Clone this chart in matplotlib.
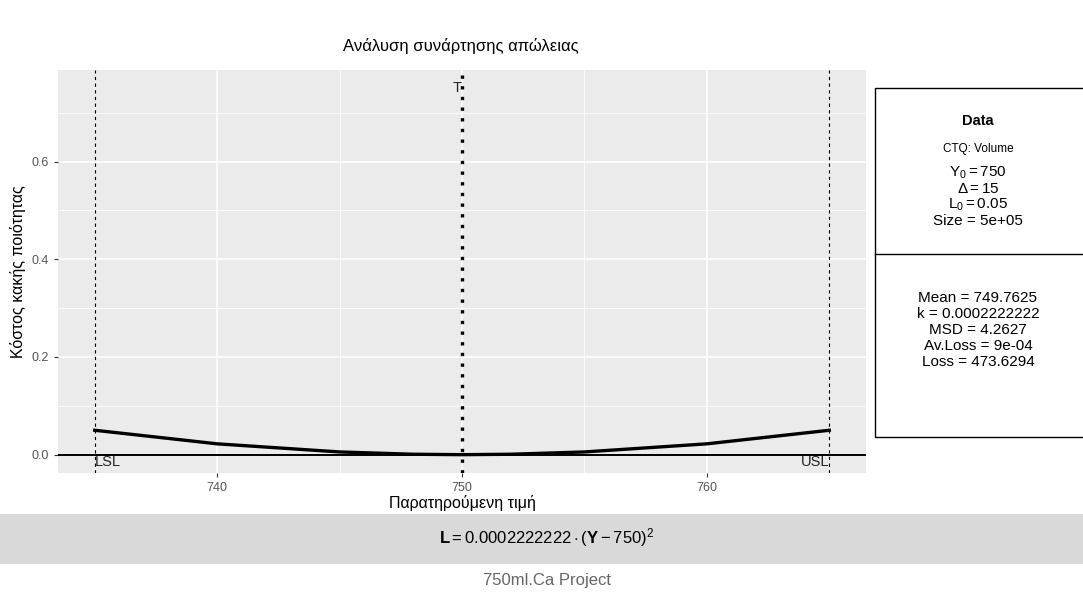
import numpy as np
import matplotlib
matplotlib.use("Agg")
import matplotlib.pyplot as plt
from matplotlib.patches import Rectangle
from matplotlib.lines import Line2D

plt.rcParams['font.family'] = ['Liberation Sans', 'DejaVu Sans']
plt.rcParams['mathtext.fontset'] = 'custom'
plt.rcParams['mathtext.rm'] = 'Liberation Sans'
plt.rcParams['mathtext.it'] = 'Liberation Sans:italic'
plt.rcParams['mathtext.bf'] = 'Liberation Sans:bold'

# Data
obs = [735, 740, 745, 748, 750, 752, 755, 760, 765]
loss = [0.05, 0.0222, 0.0056, 0.0009, 0.0, 0.0009, 0.0056, 0.0222, 0.05]
lsl, target, usl = 735, 750, 765
t_label_y = 0.75
x_ticks = [740, 750, 760]
y_ticks = [0.0, 0.2, 0.4, 0.6]
data_lines = [r'$\mathrm{Y_0 = 750}$', r'$\Delta = 15$', r'$\mathrm{L_0 = 0.05}$', 'Size = 5e+05']
stat_lines = ['Mean = 749.7625', 'k = 0.0002222222', 'MSD = 4.2627', 'Av.Loss = 9e-04', 'Loss = 473.6294']

W, H = 1083, 597
fig = plt.figure(figsize=(W / 100, H / 100), dpi=100)
ax = fig.add_axes([58 / W, 1 - 473 / H, (866 - 58) / W, (473 - 70) / H])
ax.set_facecolor('#EBEBEB')
for s in ax.spines.values():
    s.set_visible(False)

ax.set_xlim(733.5, 766.5)
ax.set_ylim(-0.0375, 0.7875)
ax.set_xticks(x_ticks)
ax.set_yticks(y_ticks)
ax.set_xticks([735, 745, 755, 765], minor=True)
ax.set_yticks([0.1, 0.3, 0.5, 0.7], minor=True)
ax.grid(which='major', color='white', linewidth=1.1)
ax.grid(which='minor', color='white', linewidth=0.55)
ax.set_axisbelow(True)
ax.tick_params(which='major', colors='#333333', labelcolor='#555555', labelsize=9, length=3, width=0.8)
ax.tick_params(which='minor', length=0)
ax.yaxis.set_major_formatter(matplotlib.ticker.FormatStrFormatter('%.1f'))

ax.plot(obs, loss, color='black', linewidth=2.4, solid_joinstyle='round')
ax.axhline(0, color='black', linewidth=1.4)
ax.axvline(lsl, color='black', linestyle=(0, (3, 3)), linewidth=0.8)
ax.axvline(usl, color='black', linestyle=(0, (3, 3)), linewidth=0.8)
ax.axvline(target, color='black', linestyle=(0, (1, 2.2)), linewidth=2.4)
ax.text(target, t_label_y, 'T', ha='right', va='center', fontsize=10.5, color='#222222')
ax.text(lsl, 0, 'LSL', ha='left', va='top', fontsize=10.5, color='#222222')
ax.text(usl, 0, 'USL', ha='right', va='top', fontsize=10.5, color='#222222')

ax.set_xlabel('Παρατηρούμενη τιμή', fontsize=11.5, labelpad=1)
ax.set_ylabel('Κόστος κακής ποιότητας', fontsize=11.5, labelpad=4)
fig.text(461 / W, 1 - 46 / H, 'Ανάλυση συνάρτησης απώλειας', ha='center', va='center', fontsize=12)

# right info box
fig.patches.append(Rectangle((875 / W, 1 - 437 / H), (1090 - 875) / W, (437 - 88) / H,
                             transform=fig.transFigure, facecolor='white', edgecolor='black', linewidth=1))
fig.lines.append(Line2D([875 / W, 1], [1 - 254 / H, 1 - 254 / H], transform=fig.transFigure,
                        color='black', linewidth=1))
cx = 978 / W
fig.text(cx, 1 - 121 / H, 'Data', ha='center', va='center', fontsize=10.5, fontweight='bold')
fig.text(cx, 1 - 149 / H, 'CTQ: Volume', ha='center', va='center', fontsize=8.5)
for i, t in enumerate(data_lines):
    fig.text(cx, 1 - (173 + 16 * i) / H, t, ha='center', va='center', fontsize=11)
for i, t in enumerate(stat_lines):
    fig.text(cx, 1 - (298 + 16 * i) / H, t, ha='center', va='center', fontsize=11)

# bottom formula strip
fig.patches.append(Rectangle((0, 1 - 564 / H), 1, 50 / H, transform=fig.transFigure,
                             facecolor='#D9D9D9', edgecolor='none'))
fig.text(0.505, 1 - 538 / H, r'$\mathbf{L} = 0.0002222222 \cdot (\mathbf{Y} - 750)^2$',
         ha='center', va='center', fontsize=12)
fig.text(0.505, 1 - 581 / H, '750ml.Ca Project', ha='center', va='center', fontsize=12, color='#666666')

fig.savefig('out.png', dpi=100)
